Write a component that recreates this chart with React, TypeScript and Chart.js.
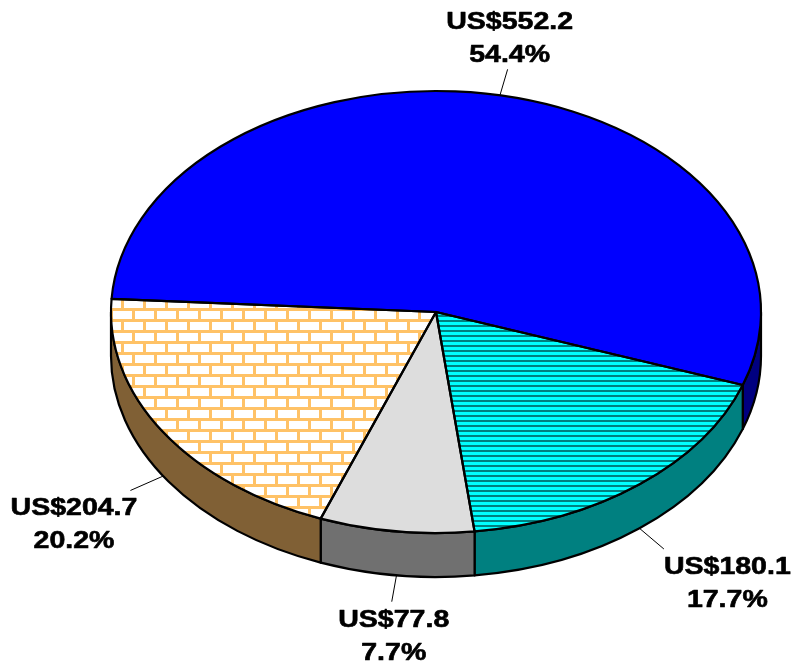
import { useEffect, useRef } from "react";
import { Chart, registerables } from "chart.js";

Chart.register(...registerables);

// ---- data ----
const categories = ["Segment A", "Segment B", "Segment C", "Segment D"];
const values = [552.2, 180.1, 77.8, 204.7];
const percents = [54.4, 17.7, 7.7, 20.2];
const valueLabels = values.map((v) => `US$${v.toFixed(1)}`);
const percentLabels = percents.map((p) => `${p.toFixed(1)}%`);

// ---- styling ----
const topColors = ["#0000FF", "#00FFFF", "#DDDDDD", "#FFFFFF"];
const topPatterns = [null, "stripes", null, "bricks"];
const sideColors = ["#000080", "#008080", "#707070", "#806035"];
const TILT = 221 / 325; // vertical squash of the pie
const DEPTH = 44; // thickness of the pie
const TOP_CY = 312; // centre of the top face on screen
const LEADER = 1.12;

function stripePattern(ctx: CanvasRenderingContext2D) {
  const c = document.createElement("canvas");
  c.width = 4;
  c.height = 5;
  const g = c.getContext("2d")!;
  g.fillStyle = "#00FFFF";
  g.fillRect(0, 0, 4, 5);
  g.fillStyle = "#008080";
  g.fillRect(0, 0, 4, 2);
  return ctx.createPattern(c, "repeat")!;
}

function brickPattern(ctx: CanvasRenderingContext2D) {
  const c = document.createElement("canvas");
  c.width = 22;
  c.height = 22;
  const g = c.getContext("2d")!;
  g.fillStyle = "#FFFFFF";
  g.fillRect(0, 0, 22, 22);
  g.fillStyle = "#FFC266";
  g.fillRect(0, 0, 22, 3);
  g.fillRect(0, 11, 22, 3);
  g.fillRect(0, 0, 3, 11);
  g.fillRect(11, 11, 3, 11);
  return ctx.createPattern(c, "repeat")!;
}

function frontIntervals(s: number, e: number) {
  const res: [number, number][] = [];
  const T = Math.PI * 2;
  for (let n = -2; n <= 3; n++) {
    const lo = Math.max(s, n * T);
    const hi = Math.min(e, n * T + Math.PI);
    if (hi > lo) res.push([lo, hi]);
  }
  return res;
}

function props(arc: any) {
  return arc.getProps(["x", "startAngle", "endAngle", "outerRadius"], true);
}

const pie3d = {
  id: "pie3d",
  beforeDatasetsDraw(chart: any) {
    const ctx: CanvasRenderingContext2D = chart.ctx;
    const arcs = chart.getDatasetMeta(0).data;
    ctx.save();
    ctx.lineWidth = 2.2;
    ctx.lineJoin = "round";
    ctx.strokeStyle = "#000";
    arcs.forEach((arc: any, i: number) => {
      const { x, startAngle, endAngle, outerRadius } = props(arc);
      const ry = outerRadius * TILT;
      frontIntervals(startAngle, endAngle).forEach(([lo, hi]) => {
        ctx.beginPath();
        ctx.ellipse(x, TOP_CY, outerRadius, ry, 0, lo, hi, false);
        ctx.ellipse(x, TOP_CY + DEPTH, outerRadius, ry, 0, hi, lo, true);
        ctx.closePath();
        ctx.fillStyle = sideColors[i];
        ctx.fill();
        ctx.stroke();
      });
    });
    ctx.restore();
  },
  beforeDatasetDraw(chart: any) {
    const ctx: CanvasRenderingContext2D = chart.ctx;
    const arc = chart.getDatasetMeta(0).data[0];
    ctx.save();
    ctx.translate(0, TOP_CY);
    ctx.scale(1, TILT);
    ctx.translate(0, -arc.y);
  },
  afterDatasetDraw(chart: any) {
    chart.ctx.restore();
  },
  afterDatasetsDraw(chart: any) {
    const ctx: CanvasRenderingContext2D = chart.ctx;
    const arcs = chart.getDatasetMeta(0).data;
    ctx.save();
    const pats: Record<string, CanvasPattern> = {
      stripes: stripePattern(ctx),
      bricks: brickPattern(ctx),
    };
    const sector = (arc: any) => {
      const { x, startAngle, endAngle, outerRadius } = props(arc);
      ctx.beginPath();
      ctx.moveTo(x, TOP_CY);
      ctx.ellipse(x, TOP_CY, outerRadius, outerRadius * TILT, 0, startAngle, endAngle, false);
      ctx.closePath();
    };
    // hatch fills painted in screen space so the pattern keeps its size
    arcs.forEach((arc: any, i: number) => {
      const p = topPatterns[i];
      if (!p) return;
      sector(arc);
      ctx.fillStyle = pats[p];
      ctx.fill();
    });
    ctx.lineWidth = 2.2;
    ctx.lineJoin = "round";
    ctx.strokeStyle = "#000";
    arcs.forEach((arc: any) => {
      sector(arc);
      ctx.stroke();
    });

    // leader lines and labels
    ctx.font = "bold 23px 'Liberation Sans', Arial, sans-serif";
    const SX = 1.24;
    ctx.fillStyle = "#000";
    ctx.textAlign = "center";
    ctx.textBaseline = "alphabetic";
    arcs.forEach((arc: any, i: number) => {
      const { x, startAngle, endAngle, outerRadius } = props(arc);
      const mid = (startAngle + endAngle) / 2;
      const c = Math.cos(mid);
      const s = Math.sin(mid);
      const cyE = TOP_CY + (s > 0 ? DEPTH : 0);
      const px = x + outerRadius * c;
      const py = cyE + outerRadius * TILT * s;
      const ex = x + LEADER * outerRadius * c;
      const ey = cyE + LEADER * outerRadius * TILT * s;
      ctx.beginPath();
      ctx.lineWidth = 1;
      ctx.moveTo(px, py);
      ctx.lineTo(ex, ey);
      ctx.stroke();

      const lines = [valueLabels[i], percentLabels[i]];
      const w = Math.max(...lines.map((t) => ctx.measureText(t).width)) * SX;
      let bx = ex;
      if (c > 0.5) bx = ex + w / 2;
      else if (c < -0.5) bx = ex - w / 2 + 7;
      else bx = ex + 2;
      const LH = 33;
      const b1 = s < 0 ? ey - 7 - LH : ey + 25;
      ctx.lineWidth = 0.6;
      lines.forEach((t, k) => {
        ctx.save();
        ctx.translate(bx, b1 + k * LH);
        ctx.scale(SX, 1);
        ctx.fillText(t, 0, 0);
        ctx.strokeText(t, 0, 0);
        ctx.restore();
      });
    });
    ctx.restore();
  },
};

export default function App() {
  const ref = useRef<HTMLCanvasElement | null>(null);
  useEffect(() => {
    document.body.style.margin = "0";
    const canvas = ref.current!;
    const chart = new Chart(canvas, {
      type: "pie",
      data: {
        labels: categories,
        datasets: [
          {
            data: values,
            backgroundColor: topColors,
            borderWidth: 0,
            hoverOffset: 0,
            clip: false,
          } as any,
        ],
      },
      options: {
        responsive: false,
        animation: false,
        devicePixelRatio: 1,
        events: [],
        rotation: 273.4,
        radius: 325,
        layout: { padding: { left: 111, right: 32, top: 10, bottom: 11 } },
        plugins: { legend: { display: false }, tooltip: { enabled: false } },
      } as any,
      plugins: [pie3d],
    });
    return () => chart.destroy();
  }, []);
  return (
    <div style={{ width: 793, height: 671, background: "#fff" }}>
      <canvas ref={ref} width={793} height={671} style={{ display: "block" }} />
    </div>
  );
}
